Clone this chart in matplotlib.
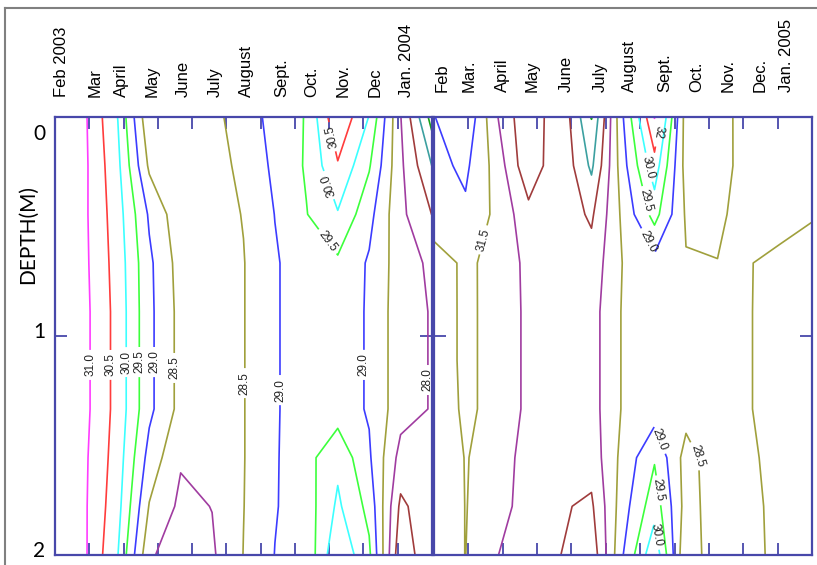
import numpy as np
import matplotlib.pyplot as plt
from matplotlib.lines import Line2D

# --- data: salinity grid, 13 columns across each year x 10 depths (0..2 m) ---
levels = [26.5, 27.0, 27.5, 28.0, 28.5, 29.0, 29.5, 30.0, 30.5, 31.0]
line_colors = ['#18a018', '#3ca0a0', '#a03c3c', '#a03ca0', '#a0a03c',
               '#3c3cff', '#3cff3c', '#3cffff', '#ff3c3c', '#ff3cff']

depths = np.linspace(0, 2, 10)
months = np.linspace(0, 11, 13)

mid_2003 = [31.3, 31.09, 30.32, 29.12, 28.34, 28.4, 28.48, 28.95, 29.26, 29.25, 28.95, 28.2, 27.97]
sal_2003 = [
    [31.3, 31.02, 29.99, 28.08, 28.3, 28.47, 28.55, 29.3, 29.52, 30.95, 29.98, 28.02, 26.29],
    [31.3, 31.046, 30.12, 28.41, 28.35, 28.45, 28.53, 29.13, 29.55, 30.45, 29.55, 28.1, 26.99],
    [31.3, 31.04, 30.22, 28.93, 28.16, 28.3, 28.52, 29.01, 29.48, 29.96, 29.16, 28.12, 27.49],
    [31.3, 31.06, 30.28, 29.1, 28.29, 28.4, 28.48, 28.95, 29.26, 29.41, 28.94, 28.24, 27.9],
    mid_2003,
    mid_2003,
    mid_2003,
    [31.3, 31.04, 30.26, 28.81, 28.05, 28.3, 28.48, 28.95, 29.33, 29.88, 29.07, 27.82, 27.75],
    [31.3, 31.02, 30.17, 28.47, 27.89, 28.01, 28.49, 28.97, 29.24, 30.09, 29.35, 27.39, 27.85],
    [31.3, 31.02, 30.01, 28.1, 27.6, 27.93, 28.51, 29.01, 29.13, 30.44, 29.6, 27.1, 27.97],
]

mid_2004 = [28.35, 28.555, 28.41, 27.87, 27.75, 27.8, 28.55, 28.75, 28.7, 28.65, 28.55, 28.1, 28.1]
sal_2004 = [
    [28.98, 29.45, 28.03, 27.05, 27.95, 26.48, 28.98, 31.02, 28.27, 28.3, 28.71, 28.7, 28.65],
    [28.85, 29.1, 28.3, 27.1, 27.95, 26.9, 28.82, 30.3, 28.3, 28.25, 28.76, 28.75, 28.7],
    [28.6, 28.91, 28.38, 27.67, 27.8, 27.42, 28.62, 29.69, 28.44, 28.4, 28.73, 28.7, 28.58],
    [28.42, 28.53, 28.45, 27.83, 27.8, 27.7, 28.52, 28.83, 28.53, 28.51, 28.52, 28.37, 28.08],
    mid_2004,
    mid_2004,
    [28.3, 28.555, 28.41, 27.87, 27.75, 27.8, 28.55, 28.75, 28.7, 28.65, 28.55, 28.1, 28.1],
    [28.3, 28.51, 28.42, 27.68, 27.6, 27.7, 28.66, 29.45, 28.3, 28.8, 28.7, 28.08, 28.1],
    [28.3, 28.505, 28.42, 27.55, 27.55, 27.42, 28.79, 29.8, 28.3, 28.74, 28.7, 28.27, 28.2],
    [28.3, 28.505, 28.02, 27.6, 27.51, 27.15, 28.99, 30.4, 28.05, 28.95, 28.7, 28.31, 28.2],
]

labels_2003 = ['Feb 2003', 'Mar', 'April', 'May', 'June', 'July', 'August',
               'Sept.', 'Oct.', 'Nov.', 'Dec', 'Jan. 2004']
pos_2003 = [0.20, 1.17, 1.93, 2.83, 3.74, 4.67, 5.60, 6.62, 7.49, 8.40, 9.33, 10.27]
labels_2004 = ['Feb', 'Mar.', 'April', 'May', 'June', 'July', 'August',
               'Sept.', 'Oct.', 'Nov.', 'Dec.', 'Jan. 2005']
pos_2004 = [0.23, 1.02, 2.00, 2.87, 3.86, 4.83, 5.70, 6.72, 7.66, 8.56, 9.49, 10.27]

# contour label spots (month, depth) and reading direction
clab_2003 = [(0.934, 1.132), (1.517, 1.132), (1.926, 1.119), (2.305, 1.119),
             (2.801, 1.119), (3.472, 1.146), (5.515, 1.215), (6.536, 1.247),
             (9.016, 1.132), (10.854, 1.201), (8.07, 0.091), (7.99, 0.311),
             (7.82, 0.584)]
dir_2003 = ['up'] * 12 + ['right']
clab_2004 = [(1.455, 0.562), (6.54, 0.068), (6.286, 0.228), (6.257, 0.379),
             (6.17, 0.575), (6.548, 1.475), (6.607, 1.703), (6.46, 1.909),
             (7.537, 1.557)]
dir_2004 = ['up'] + ['down'] * 8
text_2004 = {0: '31.5', 1: '32'}

frame = '#4848aa'
W, H = 817, 565

fig = plt.figure(figsize=(W / 100, H / 100), dpi=100)
ax1 = fig.add_axes([55 / W, 10 / H, 377 / W, 438 / H])
ax2 = fig.add_axes([434 / W, 10 / H, 378 / W, 438 / H])


def orient(texts, modes):
    for t, m in zip(texts, modes):
        r = ((t.get_rotation() + 90) % 180) - 90
        if m == 'up' and r <= 0:
            r += 180
        elif m == 'down' and r > 0:
            r -= 180
        t.set_rotation(r)


def panel(ax, z, lab, pos, spots, modes, pad):
    ax.set_xlim(0, 11)
    ax.set_ylim(2, 0)
    ax.xaxis.remove_overlapping_locs = False
    cs = ax.contour(months, depths, np.array(z), levels=levels,
                    colors=line_colors, linewidths=1.2)
    for s in ax.spines.values():
        s.set_color(frame)
        s.set_linewidth(1.6)
    ax.set_xticks(range(1, 11))
    ax.set_xticklabels([])
    ax.tick_params(axis='x', which='major', direction='in', top=True, bottom=True,
                   length=8.6, width=1.3, color=frame,
                   labeltop=False, labelbottom=False)
    ax.set_xticks(pos, lab, minor=True)
    ax.tick_params(axis='x', which='minor', length=0, top=True, bottom=False,
                   labeltop=True, labelbottom=False, labelrotation=90,
                   labelsize=12, pad=pad)
    for t in ax.get_xticklabels(minor=True):
        t.set_fontfamily('Liberation Sans')
    ax.set_yticks([0, 1, 2])
    ax.set_yticklabels([])
    ax.tick_params(axis='y', which='major', direction='in', left=True, right=True,
                   length=8.6, width=1.3, color=frame)
    txt = ax.clabel(cs, manual=spots, inline=True, inline_spacing=2,
                    fontsize=8.5, fmt='%.1f', colors='#222222')
    for t in txt:
        t.set_fontfamily('Liberation Sans')
    orient(txt, modes)
    return txt


panel(ax1, sal_2003, labels_2003, pos_2003, clab_2003, dir_2003, 14.4)
t2 = panel(ax2, sal_2004, labels_2004, pos_2004, clab_2004, dir_2004, 18)
for i, s in text_2004.items():
    t2[i].set_text(s)

# depth labels on the left panel
ax1.yaxis.remove_overlapping_locs = False
ax1.set_yticks([0.068, 0.973, 1.973], ['0', '1', '2'], minor=True)
ax1.tick_params(axis='y', which='minor', length=0, left=True, labelleft=True,
                labelsize=15, pad=7)
for t in ax1.get_yticklabels(minor=True):
    t.set_fontfamily('Lato')
ax2.tick_params(axis='y', which='minor', left=False, right=False)

fig.text(28 / W, 1 - 234 / H, 'DEPTH(M)', rotation=90, ha='center', va='center',
         fontsize=15, family='Lato')

# outer grey border of the original figure
fig.add_artist(Line2D([5 / W, 5 / W], [0, 1 - 8 / H], color='#808080', lw=1.5))
fig.add_artist(Line2D([5 / W, 1], [1 - 8 / H, 1 - 8 / H], color='#808080', lw=1.5))

fig.savefig('out.png', dpi=100)
